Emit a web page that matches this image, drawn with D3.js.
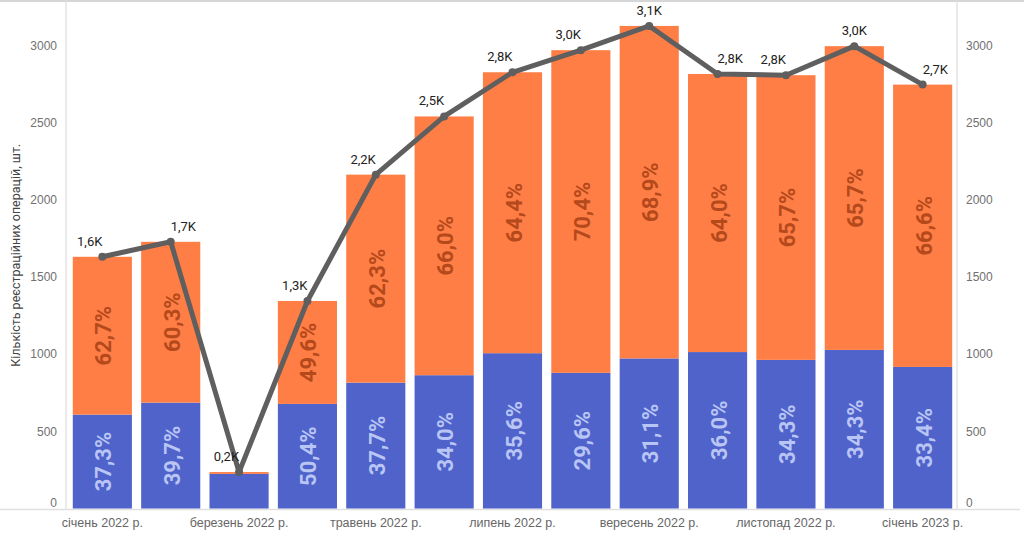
<!DOCTYPE html>
<html>
<head>
<meta charset="utf-8">
<script src="https://cdn.jsdelivr.net/npm/d3@7"></script>
<style>
  body { margin: 0; background: #fff; }
  svg { display: block; font-family: Roboto, "Noto Sans", sans-serif; }
</style>
</head>
<body>
<div id="chart"></div>
<script>
const months = ["січень 2022 р.", "лютий 2022 р.", "березень 2022 р.", "квітень 2022 р.", "травень 2022 р.",
  "червень 2022 р.", "липень 2022 р.", "серпень 2022 р.", "вересень 2022 р.", "жовтень 2022 р.",
  "листопад 2022 р.", "грудень 2022 р.", "січень 2023 р."];
const totals = [1630, 1727, 236, 1344, 2162, 2539, 2825, 2968, 3125, 2814, 2806, 2994, 2745];
const blueShare = [37.3, 39.7, 95.0, 50.4, 37.7, 34.0, 35.6, 29.6, 31.1, 36.0, 34.3, 34.3, 33.4];
const orangeShare = [62.7, 60.3, 5.0, 49.6, 62.3, 66.0, 64.4, 70.4, 68.9, 64.0, 65.7, 65.7, 66.6];
const showShare = [true, true, false, true, true, true, true, true, true, true, true, true, true];
const yTicks = [0, 500, 1000, 1500, 2000, 2500, 3000];
const xLabelsShown = ["січень 2022 р.", "березень 2022 р.", "травень 2022 р.", "липень 2022 р.",
  "вересень 2022 р.", "листопад 2022 р.", "січень 2023 р."];

const width = 1024, height = 542;
const margin = {top: 2, right: 67, bottom: 33, left: 66};
const blue = "#4f63ca", orange = "#ff7e45";

const svg = d3.select("#chart").append("svg")
  .attr("width", width)
  .attr("height", height);

const x = d3.scaleBand()
  .domain(months)
  .range([margin.left + 2, width - margin.right])
  .paddingInner(0.135)
  .paddingOuter(0.07);

const y = d3.scaleLinear()
  .domain([0, 3280])
  .range([height - margin.bottom - 0.5, margin.top]);

// frame lines
svg.append("line")
  .attr("x1", 0).attr("x2", width)
  .attr("y1", 1).attr("y2", 1)
  .attr("stroke", "#d6d6d6").attr("stroke-width", 2);
svg.append("line")
  .attr("x1", 0).attr("x2", width - 4)
  .attr("y1", y(0) + 1).attr("y2", y(0) + 1)
  .attr("stroke", "#e0e0e0").attr("stroke-width", 1.5);
[margin.left, width - margin.right].forEach(px => {
  svg.append("line")
    .attr("x1", px).attr("x2", px)
    .attr("y1", 1).attr("y2", y(0) + 1)
    .attr("stroke", "#e3e3e3").attr("stroke-width", 1.5);
});

// axes
const yLeft = svg.append("g")
  .attr("transform", `translate(${margin.left},0)`)
  .call(d3.axisLeft(y).tickValues(yTicks).tickSize(0).tickPadding(9).tickFormat(d3.format("d")));
const yRight = svg.append("g")
  .attr("transform", `translate(${width - margin.right},0)`)
  .call(d3.axisRight(y).tickValues(yTicks).tickSize(0).tickPadding(9).tickFormat(d3.format("d")));
[yLeft, yRight].forEach(g => {
  g.select(".domain").remove();
  g.selectAll("text")
    .attr("fill", "#707070")
    .attr("font-size", "12px")
    .attr("dy", d => d === 0 ? "-0.2em" : "0.32em");
});

const xAxis = svg.append("g")
  .attr("transform", `translate(0,${y(0)})`)
  .call(d3.axisBottom(x).tickValues(xLabelsShown).tickSize(0).tickPadding(10));
xAxis.select(".domain").remove();
xAxis.selectAll("text")
  .attr("fill", "#666")
  .attr("font-size", "12.5px");

svg.append("text")
  .attr("transform", `translate(20,${(y(0) + margin.top) / 2})rotate(-90)`)
  .attr("text-anchor", "middle")
  .attr("font-size", "12.5px")
  .attr("fill", "#444")
  .text("Кількість реєстраційних операцій, шт.");

// stacked bars
const rows = months.map((m, i) => {
  const b = totals[i] * blueShare[i] / 100;
  return {m, i, total: totals[i], blue: b, orange: totals[i] - b};
});

const bars = svg.append("g");
bars.selectAll(".blue").data(rows).join("rect")
  .attr("x", d => x(d.m))
  .attr("width", x.bandwidth())
  .attr("y", d => y(d.blue))
  .attr("height", d => y(0) - y(d.blue))
  .attr("fill", blue);
bars.selectAll(".orange").data(rows).join("rect")
  .attr("x", d => x(d.m))
  .attr("width", x.bandwidth())
  .attr("y", d => y(d.total))
  .attr("height", d => y(d.blue) - y(d.total))
  .attr("fill", orange);

const pct = v => v.toFixed(1).replace(".", ",") + "%";
const shareLabels = svg.append("g")
  .attr("font-size", "22px")
  .attr("font-weight", "bold")
  .attr("text-anchor", "middle");
rows.filter(d => showShare[d.i]).forEach(d => {
  const cx = x(d.m) + x.bandwidth() / 2;
  const yb = (y(0) + y(d.blue)) / 2;
  const yo = (y(d.blue) + y(d.total)) / 2;
  shareLabels.append("text")
    .attr("transform", `translate(${cx + 9},${yb})rotate(-90)`)
    .attr("fill", "#b9c5f4")
    .text(pct(blueShare[d.i]));
  shareLabels.append("text")
    .attr("transform", `translate(${cx + 9},${yo})rotate(-90)`)
    .attr("fill", "#b4491c")
    .text(pct(orangeShare[d.i]));
});

// total line
const line = d3.line()
  .x(d => x(d.m) + x.bandwidth() / 2)
  .y(d => y(d.total));
svg.append("path")
  .datum(rows)
  .attr("fill", "none")
  .attr("stroke", "#5f5f5f")
  .attr("stroke-width", 5)
  .attr("stroke-linejoin", "round")
  .attr("d", line);
svg.append("g").selectAll("circle").data(rows).join("circle")
  .attr("cx", d => x(d.m) + x.bandwidth() / 2)
  .attr("cy", d => y(d.total))
  .attr("r", 4)
  .attr("fill", "#5f5f5f");

// total labels, placed beside the line depending on its direction
const kfmt = v => (v / 1000).toFixed(1).replace(".", ",") + "K";
const anchorFor = i => {
  const cur = totals[i], prev = totals[i - 1], next = totals[i + 1];
  if (next !== undefined && next > cur + 50) return "end";
  if (prev !== undefined && next !== undefined && prev < cur - 50 && next < cur - 50 && cur - next < 500) return "middle";
  return "start";
};
svg.append("g").selectAll("text").data(rows).join("text")
  .attr("x", d => x(d.m) + x.bandwidth() / 2)
  .attr("y", d => y(d.total) - 11)
  .attr("text-anchor", d => anchorFor(d.i))
  .attr("font-size", "13px")
  .attr("fill", "#222")
  .text(d => kfmt(d.total));
</script>
</body>
</html>
